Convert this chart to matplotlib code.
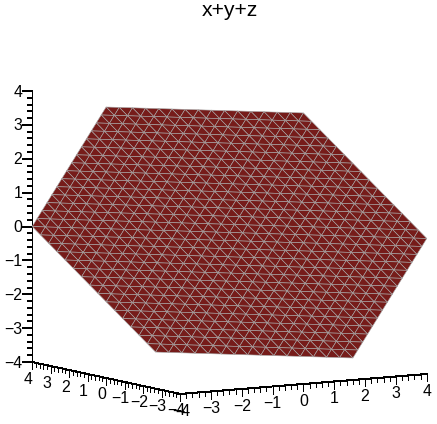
import numpy as np
import matplotlib

matplotlib.use('Agg')
import matplotlib.pyplot as plt
from mpl_toolkits.mplot3d import proj3d

plt.rcParams['font.family'] = ['Liberation Sans', 'DejaVu Sans']

W, H = 437, 424

# mesh nodes along x and y, surface is the plane x+y+z=0
grid_vals = [-4.0, -3.7333, -3.4667, -3.2, -2.9333, -2.6667, -2.4, -2.1333,
             -1.8667, -1.6, -1.3333, -1.0667, -0.8, -0.5333, -0.2667, 0.0,
             0.2667, 0.5333, 0.8, 1.0667, 1.3333, 1.6, 1.8667, 2.1333,
             2.4, 2.6667, 2.9333, 3.2, 3.4667, 3.7333, 4.0]
x_ticks = [4, 3, 2, 1, 0, -1, -2, -3, -4]
y_ticks = [-4, -3, -2, -1, 0, 1, 2, 3, 4]
z_ticks = [-4, -3, -2, -1, 0, 1, 2, 3, 4]
title = 'x+y+z'

face_color = '#761c1a'
edge_color = '#a8a8a8'

fig = plt.figure(figsize=(W / 100, H / 100), dpi=100)
ax = fig.add_axes([0, 0, 1, 1], projection='3d', proj_type='ortho')
ax.set_xlim(-4, 4, view_margin=0)
ax.set_ylim(-4, 4, view_margin=0)
ax.set_zlim(-4, 4, view_margin=0)
ax.set_box_aspect((35.4, 36.2, 34.2))
ax.view_init(elev=-7.6, azim=31.5)
ax.set_axis_off()


def to_px(x, y, z):
    px, py, _ = proj3d.proj_transform(x, y, z, ax.get_proj())
    d = ax.transData.transform((px, py))
    return d[0], H - d[1]


# fit the axes box so the cube lands on the reference frame
fig.canvas.draw()
bb = ax.get_position()
box_cx, box_cy = (bb.x0 + bb.x1) / 2 * W, H - (bb.y0 + bb.y1) / 2 * H
side = bb.width * W
mx, my = to_px(0, 0, 0)
top = to_px(-4, -4, 4)
bot = to_px(-4, -4, -4)
fac = 271.0 / (bot[1] - top[1])
side = side * fac
new_cx = 229.5 - (mx - box_cx) * fac
new_cy = 232.5 - (my - box_cy) * fac
ax.set_position([(new_cx - side / 2) / W, (H - new_cy - side / 2) / H, side / W, side / H])
fig.canvas.draw()

# triangles of the plane
n = len(grid_vals)
xs, ys, idx = [], [], {}
for i in range(n):
    for j in range(n):
        zv = -(grid_vals[i] + grid_vals[j])
        if abs(zv) <= 4.001:
            idx[(i, j)] = len(xs)
            xs.append(grid_vals[i])
            ys.append(grid_vals[j])
tris = []
for i in range(n - 1):
    for j in range(n - 1):
        a, b, c, d = (i, j), (i + 1, j), (i, j + 1), (i + 1, j + 1)
        if a in idx and b in idx and c in idx:
            tris.append([idx[a], idx[b], idx[c]])
        if b in idx and c in idx and d in idx:
            tris.append([idx[b], idx[d], idx[c]])
xs = np.array(xs)
ys = np.array(ys)
ax.plot_trisurf(xs, ys, -(xs + ys), triangles=tris, color=face_color, shade=False,
                edgecolor=edge_color, linewidth=0.42, antialiased=True)


def seg(p, q):
    ax.plot([p[0], q[0]], [p[1], q[1]], [p[2], q[2]], color='black', lw=0.72,
            antialiased=False, clip_on=False)


# axis lines
seg((4, -4, -4), (-4, -4, -4))
seg((-4, -4, -4), (-4, 4, -4))
seg((4, -4, -4), (4, -4, 4))

for k in range(41):
    v = -4 + k * 0.2
    major = k % 5 == 0
    tl = 0.22 if major else 0.12
    seg((v, -4, -4), (v, -4, -4 - tl))
    seg((-4, v, -4), (-4, v, -4 - tl))
    f = 0.147 * (9.5 / 10 if major else 4.7 / 10)
    seg((4, -4, v), (4 + f, -4 - 1.6 * f, v))


def label(p, dx, dy, v, ha='center'):
    px, py = to_px(*p)
    fig.text((px + dx) / W, 1 - (py + dy) / H, str(v).replace('-', '\u2212'),
             fontsize=11.4, ha=ha, va='center')


for v in x_ticks:
    label((v, -4, -4), -4, 17, v)
for v in y_ticks:
    label((-4, v, -4), 1 if v == -4 else 0, 17.5, v)
for v in z_ticks:
    label((4, -4, v), -10, 1, v, ha='right')

fig.text(229.5 / W, 1 - 10 / H, title, fontsize=15.2, ha='center', va='center')

fig.savefig('out.png', dpi=100)
plt.close('all')
